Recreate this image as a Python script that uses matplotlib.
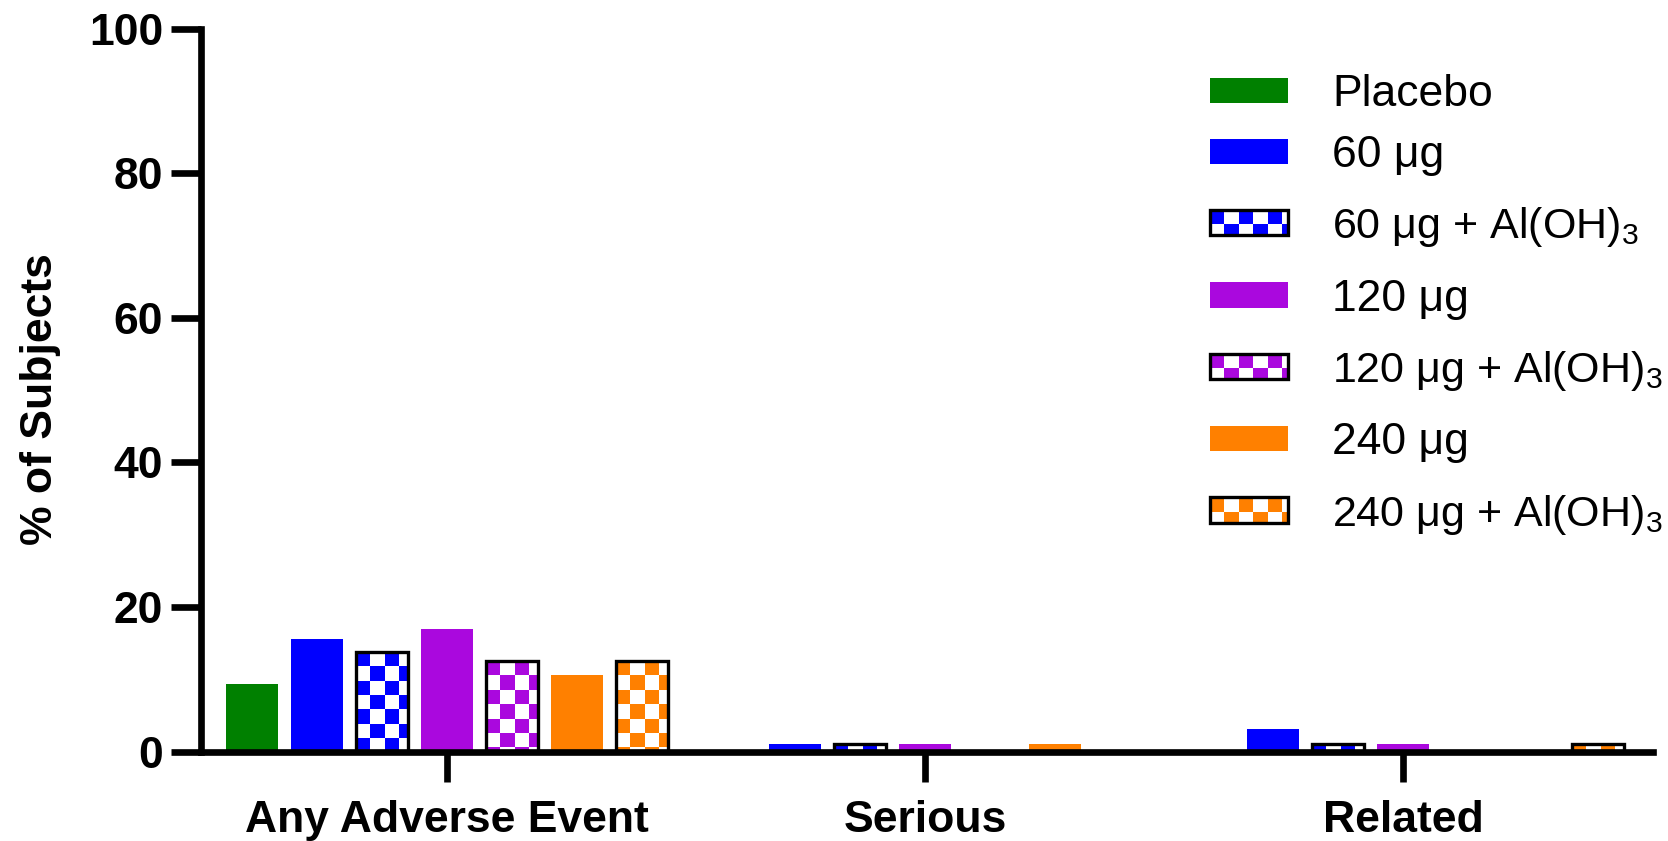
import numpy as np
import matplotlib
matplotlib.use('Agg')
import matplotlib.pyplot as plt
from matplotlib.patches import Patch, Rectangle
from matplotlib.colors import ListedColormap
from matplotlib.legend_handler import HandlerBase

plt.rcParams['font.family'] = ['Liberation Sans', 'DejaVu Sans']
plt.rcParams['mathtext.fontset'] = 'custom'
plt.rcParams['mathtext.rm'] = 'Liberation Sans'
plt.rcParams['mathtext.it'] = 'Liberation Sans:italic'
plt.rcParams['mathtext.bf'] = 'Liberation Sans:bold'

categories = ['Any Adverse Event', 'Serious', 'Related']
series = ['Placebo', '60 μg', '60 μg + Al(OH)$_3$', '120 μg',
          '120 μg + Al(OH)$_3$', '240 μg', '240 μg + Al(OH)$_3$']
colors = ['#008000', '#0000FF', '#0000FF', '#AA08DE', '#AA08DE', '#FF8000', '#FF8000']
checkered = [False, False, True, False, True, False, True]

placebo = [9.4, 0, 0]
dose60 = [15.6, 1.0, 3.1]
dose60_al = [13.8, 1.0, 1.0]
dose120 = [16.9, 1.0, 1.0]
dose120_al = [12.5, 0, 0]
dose240 = [10.6, 1.0, 0]
dose240_al = [12.5, 0, 1.0]
values = [placebo, dose60, dose60_al, dose120, dose120_al, dose240, dose240_al]

yticks = [0, 20, 40, 60, 80, 100]

fig = plt.figure(figsize=(16.68, 8.41), dpi=100)
ax = fig.add_axes([0.1208, 0.1064, 0.991 - 0.1208, 0.9661 - 0.1064])

group_gap = 7.354
width = 0.8
xlim = (-3.777, 2 * group_gap + 3.846)
ylim = (0, 100)

# checker cell size in data units (about 14 px square)
cw = 0.22
ch = 1.98

centers = np.arange(len(categories)) * group_gap
for i, (vals, col, chk) in enumerate(zip(values, colors, checkered)):
    xs = centers + (i - 3)
    if not chk:
        ax.bar(xs, vals, width, color=col, linewidth=0, zorder=1)
        continue
    bars = ax.bar(xs, vals, width, color='white', linewidth=0, zorder=1)
    cmap = ListedColormap([col, 'white'])
    for rect, v in zip(bars, vals):
        if v <= 0:
            continue
        x0 = rect.get_x()
        ncol = int(np.ceil(width / cw))
        nrow = int(np.ceil(v / ch))
        r, c = np.indices((nrow, ncol))
        im = ax.imshow((r + c) % 2, cmap=cmap, vmin=0, vmax=1, origin='upper',
                       extent=(x0, x0 + ncol * cw, v - nrow * ch, v),
                       interpolation='nearest', aspect='auto', zorder=1.5)
        im.set_clip_path(rect)
    lws = [2.4 if v > 0 else 0 for v in vals]
    ax.bar(xs, vals, width, fill=False, edgecolor='black', linewidth=lws, zorder=2)

ax.set_xlim(*xlim)
ax.set_ylim(*ylim)

for s in ['top', 'right']:
    ax.spines[s].set_visible(False)
for s in ['left', 'bottom']:
    ax.spines[s].set_linewidth(4.8)
    ax.spines[s].set_capstyle('projecting')

ax.set_yticks(yticks)
ax.set_xticks(centers)
ax.set_xticklabels(categories)
ax.tick_params(axis='both', width=4.8, length=21.6, labelsize=32)
ax.tick_params(axis='y', pad=6)
ax.tick_params(axis='x', pad=13)
for lab in ax.get_xticklabels() + ax.get_yticklabels():
    lab.set_fontweight('bold')

ax.set_ylabel('% of Subjects', fontsize=32, fontweight='bold')
ax.yaxis.set_label_coords(-0.0965, 0.488)


class CheckerHandler(HandlerBase):
    def __init__(self, color):
        super().__init__()
        self.color = color

    def create_artists(self, legend, orig_handle, xdescent, ydescent,
                       width, height, fontsize, trans):
        x0, y0 = -xdescent, -ydescent
        cell = 10.4
        arts = []
        nrow = int(np.ceil(height / cell))
        ncol = int(np.ceil(width / cell))
        for r in range(nrow):
            top = y0 + height - r * cell
            bot = max(y0, top - cell)
            for c in range(ncol):
                if (r + c) % 2:
                    continue
                left = x0 + c * cell
                right = min(x0 + width, left + cell)
                arts.append(Rectangle((left, bot), right - left, top - bot,
                                      facecolor=self.color, edgecolor='none',
                                      transform=trans))
        arts.append(Rectangle((x0, y0), width, height, fill=False,
                              edgecolor='black', linewidth=2.4, transform=trans))
        return arts


handles = []
hmap = {}
for lab, col, chk in zip(series, colors, checkered):
    h = Patch(facecolor=col, edgecolor='none', label=lab)
    handles.append(h)
    if chk:
        hmap[h] = CheckerHandler(col)

leg_kw = dict(handler_map=hmap, loc='upper left', bbox_transform=fig.transFigure,
              frameon=False, fontsize=32, borderpad=0, borderaxespad=0,
              handlelength=1.755, handleheight=0.5, handletextpad=1.0)

# first row sits closer to the rest, so it gets its own legend
leg1 = ax.legend(handles=handles[:1], bbox_to_anchor=(1210 / 1668, 0.912),
                 labelspacing=0.27, **leg_kw)
ax.add_artist(leg1)
leg2 = ax.legend(handles=handles[1:], bbox_to_anchor=(1210 / 1668, 0.8395),
                 labelspacing=0.66, **leg_kw)
for t in leg2.get_texts():
    if '$' in t.get_text():
        t.set_fontsize(31)

fig.savefig('out.png', dpi=100)
